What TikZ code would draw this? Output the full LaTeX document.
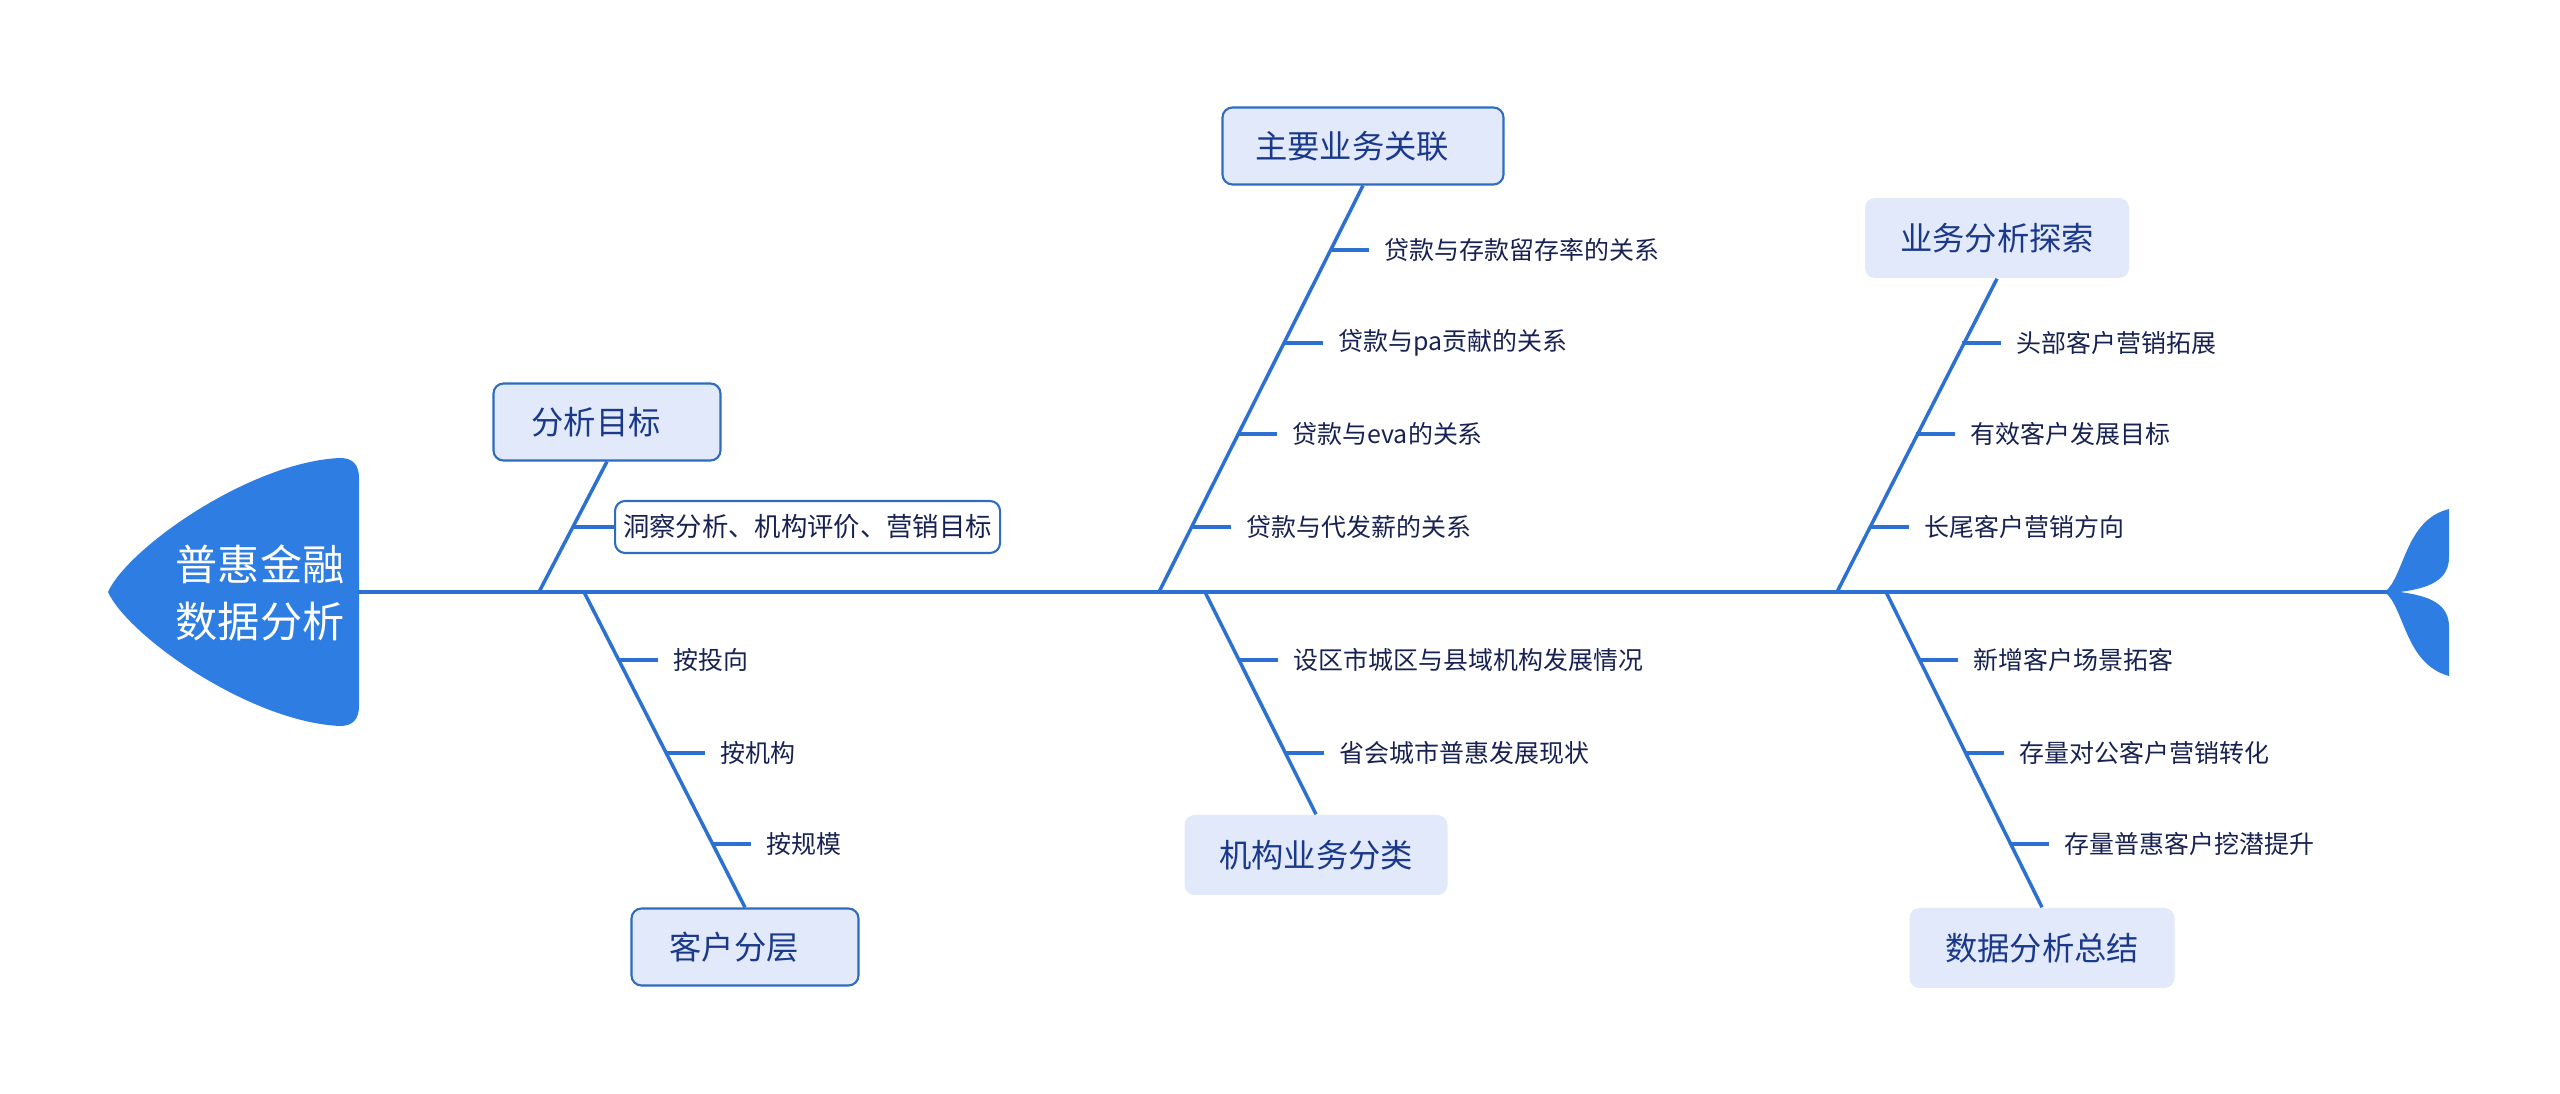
\documentclass[tikz,border=0pt]{standalone}
\usepackage{fontspec}
\setmainfont{Noto Sans CJK SC}
\usetikzlibrary{positioning}
\definecolor{fishblue}{RGB}{46,125,226}
\definecolor{boneblue}{RGB}{44,113,210}
\definecolor{topicfill}{RGB}{225,233,250}
\definecolor{topicline}{RGB}{45,108,190}
\definecolor{topictext}{RGB}{27,57,138}
\definecolor{leaftext}{RGB}{24,34,82}

\begin{document}
\begin{tikzpicture}[x=0.1mm, y=-0.1mm, node distance=3.9mm,
  bone/.style={draw=boneblue, line width=1pt},
  topic/.style={fill=topicfill, rounded corners=1mm, text=topictext, font=\fontsize{9.2pt}{11pt}\selectfont, minimum height=8mm, inner sep=0pt},
  framed/.style={draw=topicline, line width=0.6pt, minimum height=7.7mm, execute at end node={\hspace*{2.2mm}}},
  leaf/.style={text=leaftext, font=\fontsize{7.1pt}{8.5pt}\selectfont, inner sep=1.5mm}]
\useasboundingbox (0,0) rectangle (2560,1094);

% head and tail
\fill[fishblue] (108,592) .. controls (128,548) and (250,462) .. (340,458) .. controls (353,458) and (359,465) .. (359,478) -- (359,706) .. controls (359,719) and (353,726) .. (340,726) .. controls (250,722) and (128,636) .. (108,592) -- cycle;
\node[text=white, align=center, font=\fontsize{12pt}{16.2pt}\selectfont] (head) at (260,593) {普惠金融\\数据分析};
\fill[fishblue] (2385,592) .. controls (2405,575) and (2405,520) .. (2449,509) -- (2449,557) .. controls (2449,580) and (2430,588) .. (2400,592) .. controls (2430,596) and (2449,604) .. (2449,627) -- (2449,676) .. controls (2405,664) and (2405,609) .. (2385,592) -- cycle;
\coordinate (neck) at (359,592);
\coordinate (tail) at (2388,592);
\draw[bone, line width=1.2pt] (neck) -- (tail);

% main topics
\node[topic, framed, minimum width=22.7mm] (goal) at (607,422) {分析目标};
\node[topic, framed, minimum width=22.7mm] (layer) at (745,947) {客户分层};
\node[topic, framed, minimum width=28.1mm] (link) at (1363,146) {主要业务关联};
\node[topic, minimum width=26.3mm] (org) at (1316,855) {机构业务分类};
\node[topic, minimum width=26.4mm] (explore) at (1997,238) {业务分析探索};
\node[topic, minimum width=26.5mm] (summary) at (2042,948) {数据分析总结};

% bones
\coordinate (sp1) at (539,592);
\coordinate (sp2) at (584,592);
\coordinate (sp3) at (1159,592);
\coordinate (sp4) at (1205,592);
\coordinate (sp5) at (1837,592);
\coordinate (sp6) at (1886,592);
\draw[bone] (sp1) -- (goal.south);
\draw[bone] (sp2) -- (layer.north);
\draw[bone] (sp3) -- (link.south);
\draw[bone] (sp4) -- (org.north);
\draw[bone] (sp5) -- (explore.south);
\draw[bone] (sp6) -- (summary.north);

% 分析目标
\coordinate (t-goal1) at (572,527);
\node[leaf, draw=topicline, line width=0.6pt, rounded corners=1mm, font=\fontsize{7.5pt}{9pt}\selectfont, minimum width=38.5mm, minimum height=5.2mm, inner sep=0pt, right=4.2mm of t-goal1] (goal1) {洞察分析、机构评价、营销目标};
\draw[bone] (t-goal1) -- (goal1.west);

% 客户分层
\coordinate (t-layer1) at (619,660);
\coordinate (t-layer2) at (666,753);
\coordinate (t-layer3) at (712,844);
\node[leaf, right=of t-layer1] (layer1) {按投向};
\node[leaf, right=of t-layer2] (layer2) {按机构};
\node[leaf, right=of t-layer3] (layer3) {按规模};
\draw[bone] (t-layer1) -- (layer1.west);
\draw[bone] (t-layer2) -- (layer2.west);
\draw[bone] (t-layer3) -- (layer3.west);

% 主要业务关联
\coordinate (t-link1) at (1330,250);
\coordinate (t-link2) at (1284,343);
\coordinate (t-link3) at (1238,434);
\coordinate (t-link4) at (1192,527);
\node[leaf, right=of t-link1] (link1) {贷款与存款留存率的关系};
\node[leaf, right=of t-link2] (link2) {贷款与pa贡献的关系};
\node[leaf, right=of t-link3] (link3) {贷款与eva的关系};
\node[leaf, right=of t-link4] (link4) {贷款与代发薪的关系};
\draw[bone] (t-link1) -- (link1.west);
\draw[bone] (t-link2) -- (link2.west);
\draw[bone] (t-link3) -- (link3.west);
\draw[bone] (t-link4) -- (link4.west);

% 机构业务分类
\coordinate (t-org1) at (1239,660);
\coordinate (t-org2) at (1285,753);
\node[leaf, right=of t-org1] (org1) {设区市城区与县域机构发展情况};
\node[leaf, right=of t-org2] (org2) {省会城市普惠发展现状};
\draw[bone] (t-org1) -- (org1.west);
\draw[bone] (t-org2) -- (org2.west);

% 业务分析探索
\coordinate (t-explore1) at (1962,343);
\coordinate (t-explore2) at (1916,434);
\coordinate (t-explore3) at (1870,527);
\node[leaf, right=of t-explore1] (explore1) {头部客户营销拓展};
\node[leaf, right=of t-explore2] (explore2) {有效客户发展目标};
\node[leaf, right=of t-explore3] (explore3) {长尾客户营销方向};
\draw[bone] (t-explore1) -- (explore1.west);
\draw[bone] (t-explore2) -- (explore2.west);
\draw[bone] (t-explore3) -- (explore3.west);

% 数据分析总结
\coordinate (t-summary1) at (1919,660);
\coordinate (t-summary2) at (1965,753);
\coordinate (t-summary3) at (2010,844);
\node[leaf, right=of t-summary1] (summary1) {新增客户场景拓客};
\node[leaf, right=of t-summary2] (summary2) {存量对公客户营销转化};
\node[leaf, right=of t-summary3] (summary3) {存量普惠客户挖潜提升};
\draw[bone] (t-summary1) -- (summary1.west);
\draw[bone] (t-summary2) -- (summary2.west);
\draw[bone] (t-summary3) -- (summary3.west);
\end{tikzpicture}
\end{document}
